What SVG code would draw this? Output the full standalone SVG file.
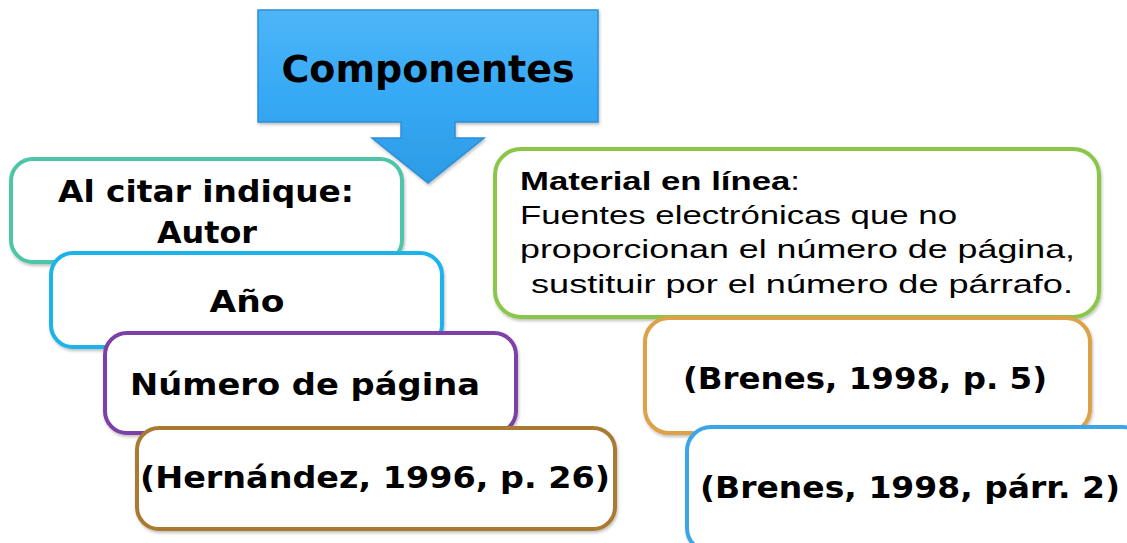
<svg xmlns="http://www.w3.org/2000/svg" width="1127" height="543" viewBox="0 0 1127 543">
<style>
.box{fill:#ffffff;stroke-width:4}
.t{font-family:"DejaVu Sans","Liberation Sans",sans-serif;font-weight:bold;fill:#000;font-size:30px}
.c{font-family:"Liberation Sans",Arial,sans-serif;fill:#000;font-size:26px}
</style>
<defs>
<linearGradient id="ag" x1="0" y1="0" x2="0" y2="1">
<stop offset="0" stop-color="#4DB5F7"/>
<stop offset="0.5" stop-color="#36A9F5"/>
<stop offset="1" stop-color="#2C9BE6"/>
</linearGradient>
<filter id="sh" x="-5%" y="-5%" width="110%" height="115%">
<feDropShadow dx="1" dy="2" stdDeviation="1.5" flood-color="#000" flood-opacity="0.25"/>
</filter>
</defs>
<rect width="1127" height="543" fill="#ffffff"/>
<g id="connectors"></g>
<g id="n-al-citar">
<rect class="box" x="11" y="159" width="391" height="103" rx="22" stroke="#4EC5A8" filter="url(#sh)"/>
<text class="t" x="206" y="202" text-anchor="middle" textLength="296" lengthAdjust="spacingAndGlyphs">Al citar indique:</text>
<text class="t" x="207" y="243" text-anchor="middle" textLength="100" lengthAdjust="spacingAndGlyphs">Autor</text>
</g>
<g id="n-ano">
<rect class="box" x="51" y="253" width="391" height="94" rx="22" stroke="#1AB2EA" filter="url(#sh)"/>
<text class="t" x="247" y="312" text-anchor="middle" textLength="75" lengthAdjust="spacingAndGlyphs">Año</text>
</g>
<g id="n-numero">
<rect class="box" x="105" y="333" width="411" height="100" rx="22" stroke="#7B3FA6" filter="url(#sh)"/>
<text class="t" x="130" y="395" textLength="350" lengthAdjust="spacingAndGlyphs">Número de página</text>
</g>
<g id="n-hernandez">
<rect class="box" x="137" y="428" width="478" height="101" rx="22" stroke="#A87A30" stroke-width="6" filter="url(#sh)"/>
<text class="t" x="140" y="488" textLength="470" lengthAdjust="spacingAndGlyphs">(Hernández, 1996, p. 26)</text>
</g>
<g id="n-material">
<rect class="box" x="495" y="149" width="604" height="168" rx="26" stroke="#8CC64A" filter="url(#sh)"/>
<text class="c" x="520" y="190" textLength="280" lengthAdjust="spacingAndGlyphs"><tspan font-weight="bold">Material en línea</tspan>:</text>
<text class="c" x="520" y="224" textLength="437" lengthAdjust="spacingAndGlyphs">Fuentes electrónicas que no</text>
<text class="c" x="520" y="258" textLength="555" lengthAdjust="spacingAndGlyphs">proporcionan el número de página,</text>
<text class="c" x="531" y="293" textLength="542" lengthAdjust="spacingAndGlyphs">sustituir por el número de párrafo.</text>
</g>
<g id="n-brenes-p">
<rect class="box" x="645" y="318" width="445" height="115" rx="24" stroke="#DDA147" filter="url(#sh)"/>
<text class="t" x="683" y="389" textLength="364" lengthAdjust="spacingAndGlyphs">(Brenes, 1998, p. 5)</text>
</g>
<g id="n-brenes-parr">
<rect class="box" x="687" y="427" width="460" height="125" rx="24" stroke="#3AA5EA" filter="url(#sh)"/>
<text class="t" x="700" y="498" textLength="420" lengthAdjust="spacingAndGlyphs">(Brenes, 1998, párr. 2)</text>
</g>
<g id="n-componentes">
<path d="M258 10 H598 V122 H455 V138 H484 L428 183 L372 138 H401 V122 H258 Z" fill="url(#ag)" stroke="#2C8FD6" stroke-width="1.5" filter="url(#sh)"/>
<text x="428" y="82" text-anchor="middle" font-family="'DejaVu Sans','Liberation Sans',sans-serif" font-weight="bold" font-size="38" textLength="293" lengthAdjust="spacingAndGlyphs">Componentes</text>
</g>
</svg>
